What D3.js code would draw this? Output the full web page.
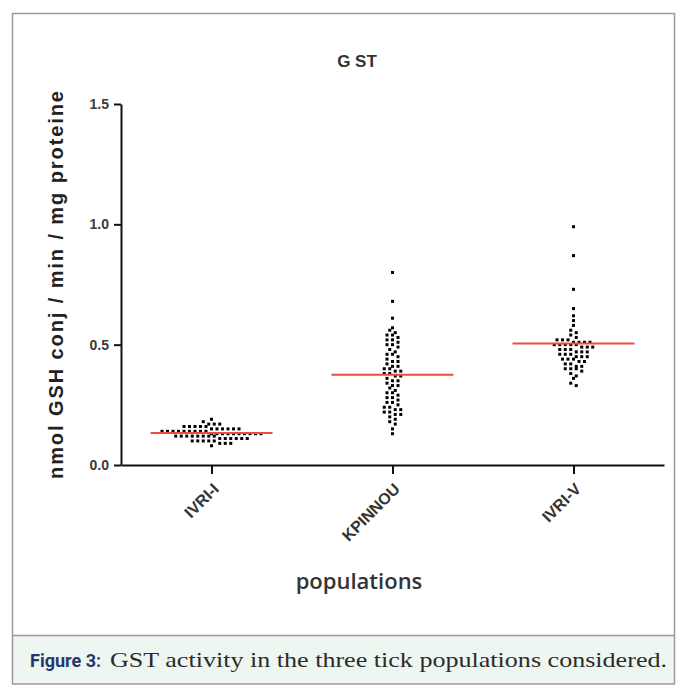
<!DOCTYPE html>
<html>
<head>
<meta charset="utf-8">
<script src="https://cdn.jsdelivr.net/npm/d3@7"></script>
<style>
  body { margin: 0; background: #fff; }
</style>
</head>
<body>
<script>
// ---------------- DATA ----------------
const populations = ["IVRI-I", "KPINNOU", "IVRI-V"];
const yTicks = [0.0, 0.5, 1.0, 1.5];

const ivriI = [0.19, 0.18, 0.17, 0.17, 0.17, 0.16, 0.16, 0.16, 0.16, 0.16, 0.15, 0.15, 0.15, 0.15, 0.15, 0.15,
  0.14, 0.14, 0.14, 0.14, 0.14, 0.14, 0.14, 0.14, 0.14, 0.13, 0.13, 0.13, 0.13, 0.13, 0.13, 0.13, 0.13, 0.13,
  0.13, 0.12, 0.12, 0.12, 0.12, 0.12, 0.12, 0.12, 0.12, 0.11, 0.11, 0.11, 0.11, 0.11, 0.11, 0.10, 0.10, 0.10,
  0.10, 0.10, 0.09, 0.09, 0.09, 0.08];
const kpinnou = [0.80, 0.68, 0.61, 0.57, 0.56, 0.55, 0.54, 0.54, 0.53, 0.52, 0.52, 0.51, 0.50, 0.50, 0.49, 0.48,
  0.47, 0.46, 0.46, 0.45, 0.44, 0.43, 0.43, 0.42, 0.41, 0.41, 0.40, 0.40, 0.39, 0.39, 0.38, 0.38, 0.37, 0.37,
  0.36, 0.35, 0.35, 0.34, 0.33, 0.33, 0.32, 0.31, 0.30, 0.30, 0.29, 0.28, 0.28, 0.27, 0.26, 0.26, 0.25, 0.24,
  0.24, 0.23, 0.23, 0.22, 0.22, 0.21, 0.21, 0.20, 0.19, 0.18, 0.17, 0.15, 0.13];
const ivriV = [0.99, 0.87, 0.73, 0.65, 0.62, 0.60, 0.58, 0.56, 0.55, 0.54, 0.53, 0.52, 0.52, 0.52, 0.51, 0.51,
  0.51, 0.51, 0.50, 0.50, 0.50, 0.50, 0.50, 0.49, 0.49, 0.49, 0.48, 0.48, 0.48, 0.47, 0.47, 0.47, 0.46, 0.46,
  0.46, 0.45, 0.45, 0.45, 0.44, 0.44, 0.44, 0.43, 0.43, 0.42, 0.42, 0.41, 0.41, 0.40, 0.40, 0.40, 0.39, 0.38,
  0.37, 0.36, 0.34, 0.33];
const means = [0.133, 0.375, 0.505];

const groups = [ivriI, kpinnou, ivriV];

// ---------------- SVG ----------------
const W = 682, H = 693;
const svg = d3.select("body").append("svg").attr("width", W).attr("height", H);

// figure frame + caption box
svg.append("rect")
  .attr("x", 12.5).attr("y", 635.5)
  .attr("width", 662).attr("height", 48.5)
  .attr("fill", "#eef6f1");
svg.append("rect")
  .attr("x", 12.5).attr("y", 13.5)
  .attr("width", 662).attr("height", 670.5)
  .attr("fill", "none")
  .attr("stroke", "#9a9a9a")
  .attr("stroke-width", 1.5);
svg.append("line")
  .attr("x1", 12.5).attr("x2", 674.5)
  .attr("y1", 635.5).attr("y2", 635.5)
  .attr("stroke", "#9a9a9a")
  .attr("stroke-width", 1.5);

// ---------------- SCALES ----------------
const x = d3.scalePoint().domain(populations).range([121, 664]).padding(0.5);
const y = d3.scaleLinear().domain([0, 1.5]).range([465, 104]);

// ---------------- AXES ----------------
const yAxis = svg.append("g")
  .attr("transform", "translate(121,0)")
  .call(d3.axisLeft(y).tickValues(yTicks).tickFormat(d3.format(".1f")).tickSize(7).tickSizeOuter(0));
yAxis.select(".domain").attr("stroke", "#111").attr("stroke-width", 2);
yAxis.selectAll(".tick line").attr("stroke", "#111").attr("stroke-width", 2);
yAxis.selectAll(".tick text")
  .attr("x", -12)
  .attr("fill", "#3a3a3a")
  .style("font", "bold 14px 'Liberation Sans', Arial, sans-serif");

const xAxis = svg.append("g")
  .attr("transform", "translate(0,465)")
  .call(d3.axisBottom(x).tickSize(9).tickSizeOuter(0));
xAxis.select(".domain").attr("stroke", "#111").attr("stroke-width", 2);
xAxis.selectAll(".tick line").attr("stroke", "#111").attr("stroke-width", 2);
xAxis.selectAll(".tick text")
  .attr("x", 0).attr("y", 0).attr("dy", 0)
  .attr("text-anchor", "end")
  .attr("transform", "translate(8,25) rotate(-45)")
  .attr("fill", "#333")
  .style("font", "bold 16px 'Liberation Sans', Arial, sans-serif");

// ---------------- POINTS ----------------
// rows of equal height, dots spread sideways inside a row
groups.forEach((vals, gi) => {
  const cx = x(populations[gi]);
  const rows = d3.group(vals, v => Math.round(y(v) / 4.8));
  rows.forEach(rowVals => {
    const n = rowVals.length;
    rowVals.forEach((v, k) => {
      const off = (k - (n - 1) / 2) * 5.5;
      svg.append("rect")
        .attr("x", cx + off - 1.5)
        .attr("y", y(v) - 1.5)
        .attr("width", 3)
        .attr("height", 3)
        .attr("fill", "#000");
    });
  });
});

// ---------------- MEAN LINES ----------------
svg.selectAll(".mean")
  .data(means)
  .join("line")
  .attr("class", "mean")
  .attr("x1", (d, i) => x(populations[i]) - 61)
  .attr("x2", (d, i) => x(populations[i]) + 61)
  .attr("y1", d => y(d))
  .attr("y2", d => y(d))
  .attr("stroke", "#ee4b45")
  .attr("stroke-width", 2);

// ---------------- TITLES ----------------
svg.append("text")
  .attr("x", 357).attr("y", 67)
  .attr("text-anchor", "middle")
  .attr("fill", "#333")
  .style("font", "bold 17px 'Liberation Sans', Arial, sans-serif")
  .text("G ST");

svg.append("text")
  .attr("transform", "translate(63,285) rotate(-90)")
  .attr("text-anchor", "middle")
  .attr("fill", "#222")
  .attr("textLength", 388)
  .attr("lengthAdjust", "spacing")
  .style("font", "600 20px 'Liberation Sans', Arial, sans-serif")
  .text("nmol GSH conj / min / mg proteine");

svg.append("text")
  .attr("x", 359).attr("y", 589)
  .attr("text-anchor", "middle")
  .attr("fill", "#333")
  .style("font", "600 22px 'Open Sans', sans-serif")
  .text("populations");

// ---------------- CAPTION ----------------
svg.append("text")
  .attr("x", 30).attr("y", 667)
  .attr("fill", "#23386e")
  .style("font", "bold 18px Roboto, 'Liberation Sans', sans-serif")
  .text("Figure 3:");
svg.append("text")
  .attr("x", 110).attr("y", 667)
  .attr("fill", "#2b2b2b")
  .attr("textLength", 557)
  .attr("lengthAdjust", "spacingAndGlyphs")
  .style("font", "22px 'Liberation Serif', 'DejaVu Serif', serif")
  .text("GST activity in the three tick populations considered.");
</script>
</body>
</html>
